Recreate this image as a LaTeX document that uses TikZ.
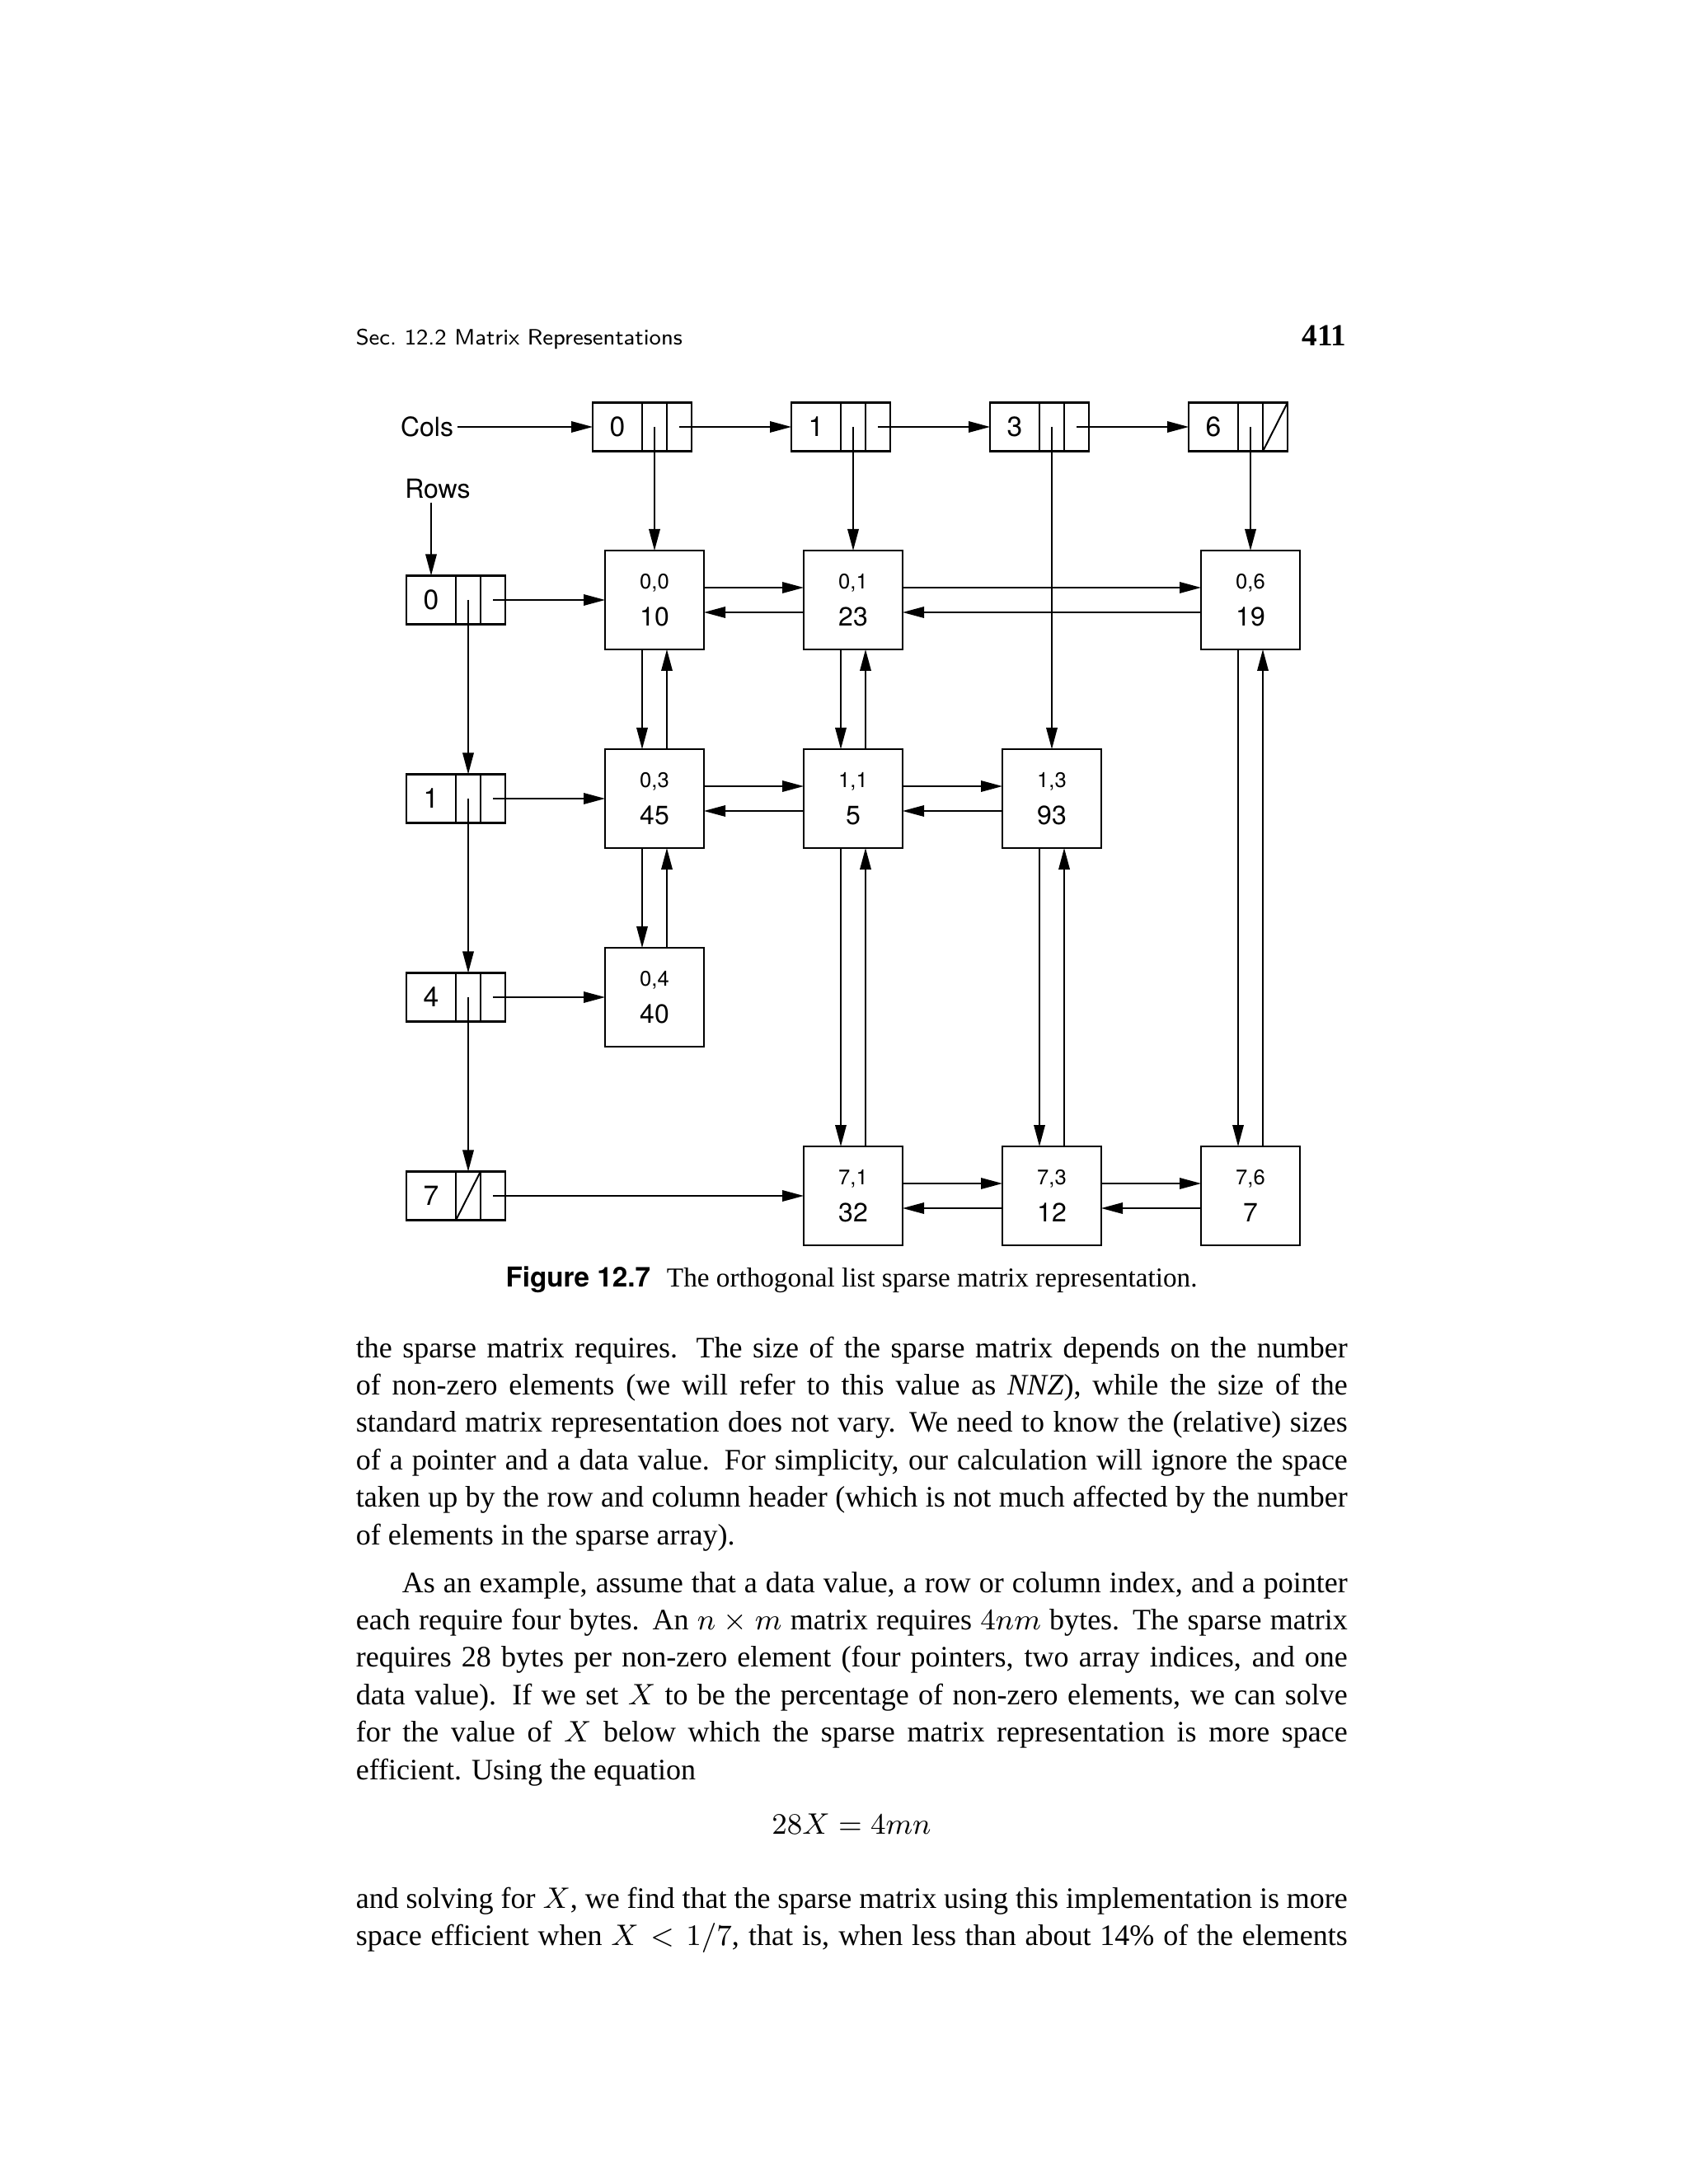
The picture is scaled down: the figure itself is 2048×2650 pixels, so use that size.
\documentclass[tikz,border=0pt]{standalone}
\usepackage{fontspec}
\setmainfont{Liberation Serif}
\newfontfamily\helv{TeX Gyre Heros}
\usetikzlibrary{arrows.meta,positioning}
\newcommand{\bodyfont}{\fontsize{9}{11.35}\selectfont}
\newcommand{\elemtext}[2]{{\fontsize{6.4}{11.2}\selectfont #1}\\#2}
\newcommand{\hdrnode}[3]{%
  \node[idx] (#1) at (#2) {#3};
  \node[ptr, right=0pt of #1] (#1d) {};
  \node[ptr, right=0pt of #1d] (#1r) {};}
\newcommand{\hlinks}[2]{%
  \draw[link] ([yshift=3.75pt]#1.east) -- ([yshift=3.75pt]#2.west);
  \draw[link] ([yshift=-3.75pt]#2.west) -- ([yshift=-3.75pt]#1.east);}
\newcommand{\vlinks}[2]{%
  \draw[link] ([xshift=-3.75pt]#1.south) -- ([xshift=-3.75pt]#2.north);
  \draw[link] ([xshift=3.75pt]#2.north) -- ([xshift=3.75pt]#1.south);}

\begin{document}
\begin{tikzpicture}[
  x=0.25pt, y=-0.25pt,
  node distance=30.25pt,
  elem/.style={
    draw,
    line width=0.7pt,
    minimum width=30pt,
    minimum height=30pt,
    inner sep=0pt,
    outer sep=0pt,
    align=center,
    font=\helv\fontsize{8}{11.2}\selectfont
  },
  idx/.style={
    draw,
    line width=0.7pt,
    minimum width=15pt,
    minimum height=14.8pt,
    inner sep=0pt,
    outer sep=0pt,
    font=\helv\fontsize{8.4}{10}\selectfont
  },
  ptr/.style={
    draw,
    line width=0.7pt,
    minimum width=7.5pt,
    minimum height=14.8pt,
    inner sep=0pt,
    outer sep=0pt
  },
  tag/.style={inner sep=1pt, font=\helv\fontsize{8}{10}\selectfont},
  link/.style={-{Triangle[length=6.5pt,width=3.4pt]}, line width=0.35pt},
  nil/.style={line width=0.5pt},
  para/.style={
    text width=300.75pt,
    align=justify,
    inner sep=0pt,
    anchor=base west,
    font=\bodyfont
  }
]
\useasboundingbox (0,0) rectangle (2048,2650);

% running head
\node[anchor=base west, inner sep=0pt, font=\sffamily\fontsize{6.75}{8}\selectfont] (runhead) at (431,419) {Sec.\ 12.2 Matrix Representations};
\node[anchor=base east, inner sep=0pt, font=\bfseries\fontsize{9.3}{11}\selectfont] (folio) at (1634,420) {411};

% headers
\node[tag] (cols) at (518,518) {Cols};
\node[tag] (rows) at (531,593) {Rows};
\hdrnode{c0}{749,518}{0}
\hdrnode{c1}{990,518}{1}
\hdrnode{c3}{1231,518}{3}
\hdrnode{c6}{1472,518}{6}
\hdrnode{r0}{523,728}{0}
\hdrnode{r1}{523,969}{1}
\hdrnode{r4}{523,1210}{4}
\hdrnode{r7}{523,1451}{7}
\draw[nil] (c6r.south west) -- (c6r.north east);
\draw[nil] (r7d.south west) -- (r7d.north east);

% non-zero elements
\node[elem] (n00) at (794,728) {\elemtext{0,0}{10}};
\node[elem, right=of n00] (n01) {\elemtext{0,1}{23}};
\node[elem, right=90.5pt of n01] (n06) {\elemtext{0,6}{19}};
\node[elem, below=of n00] (n10) {\elemtext{0,3}{45}};
\node[elem, right=of n10] (n11) {\elemtext{1,1}{5}};
\node[elem, right=of n11] (n13) {\elemtext{1,3}{93}};
\node[elem, below=of n10] (n40) {\elemtext{0,4}{40}};
\node[elem, below=90.5pt of n11] (n71) {\elemtext{7,1}{32}};
\node[elem, right=of n71] (n73) {\elemtext{7,3}{12}};
\node[elem, right=of n73] (n76) {\elemtext{7,6}{7}};

% header lists
\draw[link] (cols) -- (c0);
\draw[link] (c0r.center) -- (c1);
\draw[link] (c1r.center) -- (c3);
\draw[link] (c3r.center) -- (c6);
\draw[link] (c0d.center) -- (c0d.center |- n00.north);
\draw[link] (c1d.center) -- (c1d.center |- n01.north);
\draw[link] (c3d.center) -- (c3d.center |- n13.north);
\draw[link] (c6d.center) -- (c6d.center |- n06.north);
\draw[link] (rows.south -| r0) -- (r0);
\draw[link] (r0d.center) -- (r1d);
\draw[link] (r1d.center) -- (r4d);
\draw[link] (r4d.center) -- (r7d);
\draw[link] (r0r.center) -- (n00);
\draw[link] (r1r.center) -- (n10);
\draw[link] (r4r.center) -- (n40);
\draw[link] (r7r.center) -- (n71);

% row and column links
\hlinks{n00}{n01}
\hlinks{n01}{n06}
\hlinks{n10}{n11}
\hlinks{n11}{n13}
\hlinks{n71}{n73}
\hlinks{n73}{n76}
\vlinks{n00}{n10}
\vlinks{n10}{n40}
\vlinks{n01}{n11}
\vlinks{n11}{n71}
\vlinks{n13}{n73}
\vlinks{n06}{n76}

\node[anchor=base, inner sep=0pt, font=\fontsize{8.3}{10}\selectfont] (caption) at (1033,1561) {{\helv\bfseries Figure 12.7}\hspace{5pt}The orthogonal list sparse matrix representation.};

% body text
\node[para] (p1) at (431,1647) {the sparse matrix requires.  The size of the sparse matrix depends on the number\linebreak
of non-zero elements (we will refer to this value as \textit{NNZ}), while the size of the\linebreak
standard matrix representation does not vary. We need to know the (relative) sizes\linebreak
of a pointer and a data value. For simplicity, our calculation will ignore the space\linebreak
taken up by the row and column header (which is not much affected by the number\linebreak
of elements in the sparse array).};
\node[para] (p2) at (431,1932) {\hspace*{14pt}As an example, assume that a data value, a row or column index, and a pointer\linebreak
each require four bytes. An $n \times m$ matrix requires $4nm$ bytes. The sparse matrix\linebreak
requires 28 bytes per non-zero element (four pointers, two array indices, and one\linebreak
data value). If we set $X$ to be the percentage of non-zero elements, we can solve\linebreak
for the value of $X$ below which the sparse matrix representation is more space\linebreak
efficient. Using the equation};
\node[anchor=base, inner sep=0pt, font=\bodyfont] (eqn) at (1033,2225) {$28X = 4mn$};
\node[para] (p3) at (431,2315) {and solving for $X$, we find that the sparse matrix using this implementation is more\linebreak
space efficient when $X < 1/7$, that is, when less than about 14\% of the elements\parfillskip=0pt\par};
\end{tikzpicture}
\end{document}
